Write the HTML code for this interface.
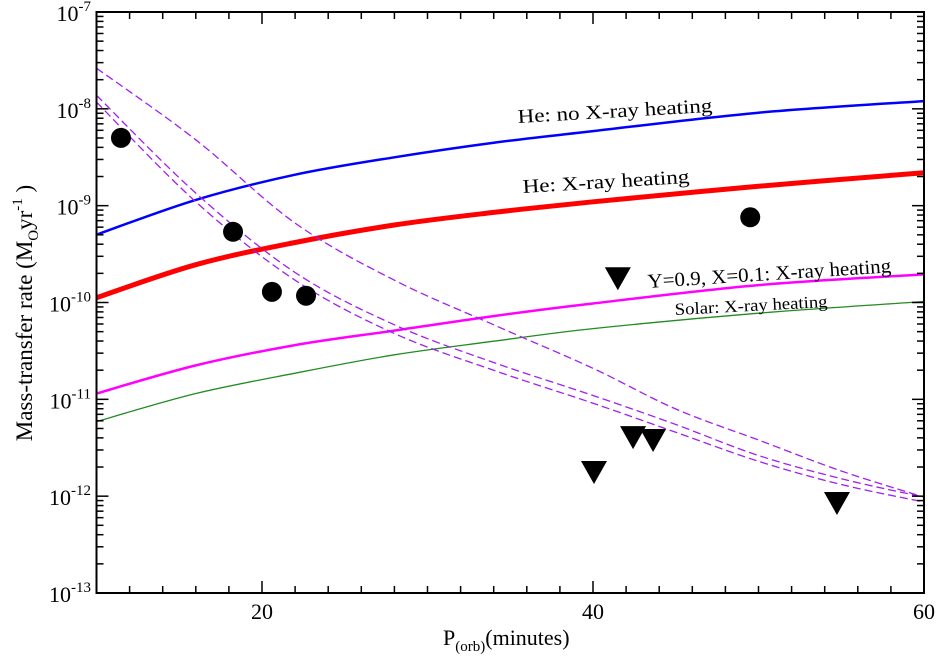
<!DOCTYPE html>
<html><head><meta charset="utf-8"><style>
body{margin:0;background:#fff}
svg{display:block;font-family:"Liberation Serif",serif}
</style></head><body>
<svg id="chart" width="938" height="656" viewBox="0 0 938 656"></svg>
<script>
const blueP=[10,16,22,28,34,40,50,60];
const blueV=[-9.30,-8.94,-8.68,-8.50,-8.35,-8.23,-8.04,-7.92];
const redV=[-9.95,-9.61,-9.38,-9.20,-9.07,-8.96,-8.80,-8.66];
const magV=[-10.94,-10.65,-10.44,-10.29,-10.14,-10.01,-9.82,-9.71];
const greenV=[-11.23,-10.94,-10.73,-10.54,-10.40,-10.27,-10.11,-9.99];
const dashP=[10,16,22,28,34,40,45,50,55,60];
const dashA=[-7.58,-8.32,-9.18,-9.77,-10.23,-10.68,-11.10,-11.42,-11.74,-12.01];
const dashB=[-7.86,-8.87,-9.69,-10.23,-10.62,-10.96,-11.26,-11.58,-11.82,-12.01];
const dashC=[-7.93,-8.96,-9.77,-10.32,-10.70,-11.04,-11.34,-11.64,-11.88,-12.06];
const circP=[11.48,18.25,20.6,22.66,49.5];
const circV=[-8.30,-9.27,-9.89,-9.93,-9.12];
const triP=[41.5,40.06,42.42,43.63,54.74];
const triV=[-9.75,-11.75,-11.39,-11.42,-12.07];
const xTicks=[20,40,60];
const yTicks=[-7,-8,-9,-10,-11,-12,-13];

const L=96.5,R=924,T=12,B=593;
const X=p=>L+(p-10)/50*(R-L);
const Y=v=>T+(-7-v)/6*(B-T);
const svg=document.getElementById('chart');
const NS='http://www.w3.org/2000/svg';
function mk(tag,a,parent){const e=document.createElementNS(NS,tag);for(const k in a)e.setAttribute(k,a[k]);(parent||svg).appendChild(e);return e;}

const defs=mk('clipPath',{id:'clip'});mk('rect',{x:L,y:T,width:R-L,height:B-T},defs);
const plot=mk('g',{'clip-path':'url(#clip)'});



function smoothPath(pts){
  let d='M'+pts[0][0].toFixed(1)+','+pts[0][1].toFixed(1);
  for(let i=0;i<pts.length-1;i++){
    const p0=pts[i-1]||pts[i],p1=pts[i],p2=pts[i+1],p3=pts[i+2]||p2;
    const c1=[p1[0]+(p2[0]-p0[0])/6,p1[1]+(p2[1]-p0[1])/6];
    const c2=[p2[0]-(p3[0]-p1[0])/6,p2[1]-(p3[1]-p1[1])/6];
    d+=` C${c1[0].toFixed(1)},${c1[1].toFixed(1)} ${c2[0].toFixed(1)},${c2[1].toFixed(1)} ${p2[0].toFixed(1)},${p2[1].toFixed(1)}`;
  }
  return d;
}
function line(ps,vs,style,name){
  const pts=ps.map((p,i)=>[X(p),Y(vs[i])]);
  const e=mk('path',Object.assign({d:smoothPath(pts),fill:'none'},style),plot);
  
  
}
line(blueP,blueV,{stroke:'#0000ff','stroke-width':2.5},'he-no-xray-line');
line(blueP,redV,{stroke:'#ff0000','stroke-width':5},'he-xray-line');
line(blueP,magV,{stroke:'#ff00ff','stroke-width':2.5},'y09-xray-line');
line(blueP,greenV,{stroke:'#228b22','stroke-width':1.3},'solar-xray-line');
line(dashP,dashA,{stroke:'#a020f0','stroke-width':1.3,'stroke-dasharray':'8,4'},'dashed-line-a');
line(dashP,dashB,{stroke:'#a020f0','stroke-width':1.3,'stroke-dasharray':'8,4'},'dashed-line-b');
line(dashP,dashC,{stroke:'#a020f0','stroke-width':1.3,'stroke-dasharray':'8,4'},'dashed-line-c');

circP.forEach((p,i)=>{
  const c=mk('circle',{cx:X(p),cy:Y(circV[i]),r:10,fill:'#000'},plot);
  
  
});
triP.forEach((p,i)=>{
  const x=X(p),y=Y(triV[i]);
  const t=mk('polygon',{points:`${x-13},${y-11} ${x+13},${y-11} ${x},${y+12}`,fill:'#000'},plot);
  
  
});

const fr=mk('rect',{x:L,y:T,width:R-L,height:B-T,fill:'none',stroke:'#000','stroke-width':2});



for(let p=10;p<=60;p+=2){
  const major=p%20===0, len=major?12:7, x=X(p);
  mk('line',{x1:x,y1:B,x2:x,y2:B-len,stroke:'#000','stroke-width':1.5});
  mk('line',{x1:x,y1:T,x2:x,y2:T+len,stroke:'#000','stroke-width':1.5});
}
xTicks.forEach(p=>{
  const t=mk('text',{x:X(p),y:619,'font-size':22,'text-anchor':'middle'});
  t.textContent=p;
  
  
});
for(let e=-13;e<-7;e++){
  for(let m=1;m<10;m++){
    const v=e+Math.log10(m), y=Y(v), len=m===1?12:7;
    mk('line',{x1:L,y1:y,x2:L+len,y2:y,stroke:'#000','stroke-width':1.5});
    mk('line',{x1:R,y1:y,x2:R-len,y2:y,stroke:'#000','stroke-width':1.5});
  }
}
yTicks.forEach(v=>{
  const t=mk('text',{x:91,y:Y(v)+9,'font-size':22,'text-anchor':'end'});
  t.innerHTML='10<tspan dy="-10" font-size="15">'+v+'</tspan>';
  
  
});

function label(txt,x,y,rot,size,w,name){
  const t=mk('text',{x:x,y:y,'font-size':size,textLength:w,lengthAdjust:'spacingAndGlyphs',transform:`rotate(${rot} ${x} ${y})`});
  t.textContent=txt;
  
  
}
label('He: no X-ray heating',518,123,-3.3,19.5,195,'label-he-no-xray');
label('He: X-ray heating',523,193,-3.5,19.5,167,'label-he-xray');
label('Y=0.9, X=0.1: X-ray heating',648,288,-3.7,20,244,'label-y09-xray');
label('Solar: X-ray heating',675,315,-3,17,153,'label-solar-xray');

const xt=mk('text',{x:443,y:645,'font-size':22});
xt.innerHTML='P<tspan dy="6" font-size="15">(orb)</tspan><tspan dy="-6">(minutes)</tspan>';


const yt=mk('text',{x:0,y:0,'font-size':23,'text-anchor':'middle',transform:'translate(32,313) rotate(-90)'});
yt.innerHTML='Mass-transfer rate (M<tspan dy="6" font-size="15">O</tspan><tspan dy="-6">yr</tspan><tspan dy="-10" font-size="15">-1</tspan><tspan dy="10"> )</tspan>';


</script>
</body></html>
